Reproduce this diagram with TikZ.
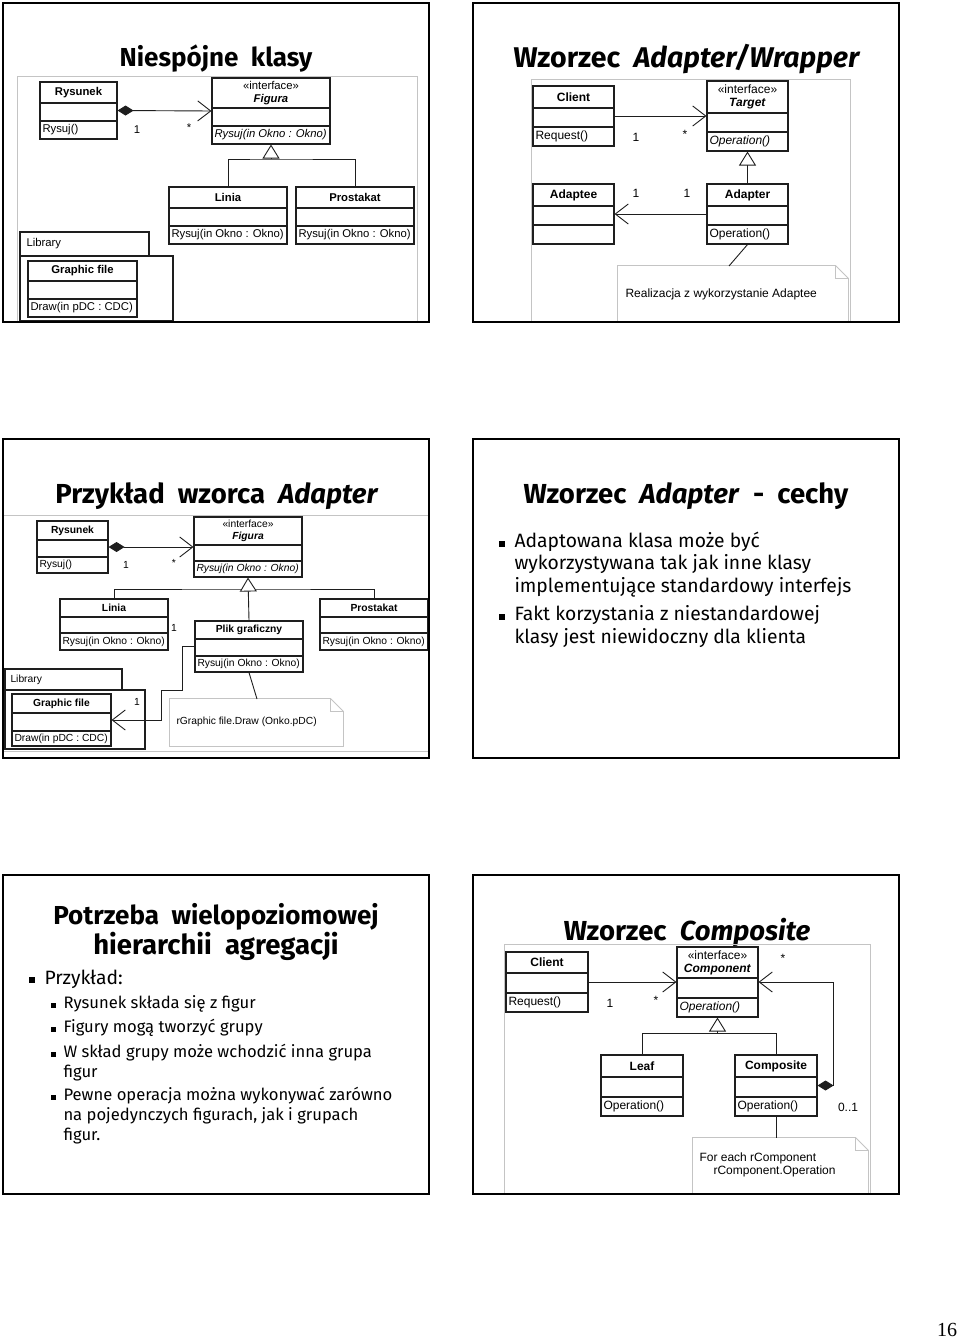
\documentclass[tikz,border=0pt]{standalone}
\usepackage{fontspec}
\setmainfont{Liberation Sans}
\newfontfamily\slidefont{Fira Sans}
\newfontfamily\numfont{Liberation Serif}
\usetikzlibrary{arrows.meta, calc, fit}
\definecolor{cline}{HTML}{1E1E1E}
\definecolor{cgray}{HTML}{C4C4C4}
\newcommand{\umlsize}{\fontsize{11.3}{13}\selectfont}
\newcommand{\widespace}{\spaceskip=0.48em\relax}
\newcommand{\iface}[1]{{\mdseries\guillemotleft interface\guillemotright}\\\textit{#1}}
% class box: name, x1, y1, x2, y2, first split, second split, title, operation
\newcommand{\umlclass}[9]{%
  \node[cls, fit={(#2,#3) (#4,#5)}] (#1) {};
  \draw[clsline] (#1.west |- 0,#6) -- (#1.east |- 0,#6);
  \draw[clsline] (#1.west |- 0,#7) -- (#1.east |- 0,#7);
  \node[clstitle] (#1-t) at ({(#2+#4)/2},{(#3+#6)/2}) {#8};
  \node[clsop] (#1-o) at (#2,{(#7+#5)/2}) {#9};
}
% note with folded corner
\newcommand{\umlnote}[5]{%
  \node[fit={(#2,#3) (#4,#5)}, inner sep=0pt] (#1) {};
  \draw[notebox] (#1.south west) -- (#1.north west) -- ([xshift=-13pt]#1.north east)
    -- ([yshift=-13pt]#1.north east) -- (#1.south east) -- cycle;
  \draw[notebox] ([xshift=-13pt]#1.north east) |- ([yshift=-13pt]#1.north east);
}
\tikzset{
  every picture/.style={line width=1pt},
  cls/.style={draw=cline, inner sep=0pt, line width=1.1pt},
  clsline/.style={draw=cline, line width=1.1pt},
  clstitle/.style={font=\umlsize\bfseries, align=center, inner sep=0pt},
  clsop/.style={font=\umlsize, anchor=west, inner sep=2pt},
  mult/.style={font=\umlsize, inner sep=0pt},
  wire/.style={draw=cline, line width=0.9pt},
  assoc/.style={wire, -{Straight Barb[length=13pt, width=20pt]}},
  gen/.style={wire, -{Triangle[open, length=14pt, width=17pt, fill=white]}},
  comp/.style={wire, {Diamond[length=16pt, width=10pt]}-{Straight Barb[length=13pt, width=20pt]}},
  notebox/.style={draw=cgray, line width=0.9pt},
  dframe/.style={draw=cgray, line width=0.9pt},
  pkg/.style={draw=cline, inner sep=0pt, line width=1.1pt},
  slide/.style={draw=black, line width=2pt},
  ttl/.style={font={\slidefont\bfseries\fontsize{#1}{30}\selectfont\widespace}, anchor=base, inner sep=0pt},
  ttl/.default=27.5,
  txt/.style={font=\slidefont\fontsize{19.3}{22.5}\selectfont, anchor=base west, inner sep=0pt},
  subtxt/.style={font=\slidefont\fontsize{16.6}{20}\selectfont, anchor=base west, inner sep=0pt},
  blt/.style={fill=black, minimum size=6pt, inner sep=0pt},
  sblt/.style={fill=black, minimum size=5pt, inner sep=0pt},
}
\begin{document}
\begin{tikzpicture}[x=1pt, y=-1pt]
  \fill[white] (0,0) rectangle (960,1340);
  \useasboundingbox (0,0) rectangle (960,1340);

  % ---- slide 1: Niespojne klasy
  \node[ttl=26] (t1) at (216,67) {Niespójne klasy};
  \draw[dframe] (17,76) rectangle (417,321);
  \umlclass{rys1}{40}{82}{117}{139}{103}{121}{Rysunek}{Rysuj()}
  \umlclass{fig1}{212}{78}{330}{144}{108}{126}{\iface{Figura}}{\textit{Rysuj(in Okno : Okno)}}
  \umlclass{lin1}{169}{187}{287}{244}{208}{226}{Linia}{Rysuj(in Okno : Okno)}
  \umlclass{pro1}{296}{187}{414}{244}{208}{226}{Prostakat}{Rysuj(in Okno : Okno)}
  \node[pkg, fit={(20,232) (149,256)}] (lib1t) {};
  \node[pkg, fit={(20,256) (173,321)}] (lib1) {};
  \node[clsop] (lib1l) at (24,244) {Library};
  \umlclass{gfx1}{28}{261}{137}{317}{281}{299}{Graphic file}{Draw(in pDC : CDC)}
  \draw[comp] (rys1.east) -- (fig1.west);
  \node[mult] (m1a) at (137,130) {1};
  \node[mult] (m1b) at (189,128) {*};
  \coordinate (j1) at (fig1.south |- 0,159);
  \draw[wire] (lin1.north) |- (j1) -| (pro1.north);
  \draw[gen] (j1) -- (fig1.south);

  % ---- slide 2: Adapter/Wrapper
  \begin{scope}
    \renewcommand{\umlsize}{\fontsize{12}{13}\selectfont}
    \node[ttl=28.5] (t2) at (687,68) {Wzorzec \textit{Adapter/Wrapper}};
    \draw[dframe] (531,79) rectangle (850,321);
    \umlclass{cli2}{533}{86}{614}{146}{108}{127}{Client}{Request()}
    \umlclass{tgt2}{707}{81}{788}{151}{113}{132}{\iface{Target}}{\textit{Operation()}}
    \umlclass{adt2}{533}{184}{614}{244}{206}{225}{Adaptee}{}
    \umlclass{adp2}{707}{184}{788}{244}{206}{225}{Adapter}{Operation()}
    \umlnote{note2}{618}{266}{848}{321}
    \node[clsop] (note2-t) at (623,294) {Realizacja z wykorzystanie Adaptee};
    \draw[assoc] (cli2.east) -- (tgt2.west);
    \node[mult] (m2a) at (636,137) {1};
    \node[mult] (m2b) at (685,134) {*};
    \draw[gen] (adp2.north) -- (tgt2.south);
    \draw[assoc] (adp2.west) -- (adt2.east);
    \node[mult] (m2c) at (636,193) {1};
    \node[mult] (m2d) at (687,193) {1};
    \coordinate (n2a) at (729,266);
    \draw[wire] (adp2.south) -- (n2a);
  \end{scope}

  % ---- slide 3: Przyklad wzorca Adapter
  \begin{scope}
    \renewcommand{\umlsize}{\fontsize{10.3}{12}\selectfont}
    \node[ttl] (t3) at (217,503) {Przykład wzorca \textit{Adapter}};
    \draw[dframe] (3,515) rectangle (429,751);
    \umlclass{rys3}{37}{521}{108}{573}{540}{557}{Rysunek}{Rysuj()}
    \umlclass{fig3}{194}{517}{302}{577}{545}{561}{\iface{Figura}}{\textit{Rysuj(in Okno : Okno)}}
    \umlclass{lin3}{60}{599}{168}{650}{617}{633}{Linia}{Rysuj(in Okno : Okno)}
    \umlclass{pro3}{320}{599}{428}{650}{617}{633}{Prostakat}{Rysuj(in Okno : Okno)}
    \umlclass{plk3}{195}{621}{303}{672}{639}{656}{Plik graficzny}{Rysuj(in Okno : Okno)}
    \node[pkg, fit={(5,669) (122,690)}] (lib3t) {};
    \node[pkg, fit={(5,690) (145,749)}] (lib3) {};
    \node[clsop] (lib3l) at (8,680) {Library};
    \umlclass{gfx3}{12}{694}{111}{746}{713}{731}{Graphic file}{Draw(in pDC : CDC)}
    \umlnote{note3}{170}{699}{343}{746}
    \node[clsop] (note3-t) at (174,722) {rGraphic file.Draw (Onko.pDC)};
    \draw[comp] (rys3.east) -- (fig3.west);
    \node[mult] (m3a) at (126,565) {1};
    \node[mult] (m3b) at (174,563) {*};
    \coordinate (j3) at (fig3.south |- 0,589);
    \draw[wire] (lin3.north) |- (j3) -| (pro3.north);
    \draw[gen] (plk3.north) -- (fig3.south);
    \draw[assoc] (plk3.west) -| (182,690) -| (161,720) -- (gfx3.east);
    \node[mult] (m3c) at (174,628) {1};
    \node[mult] (m3d) at (137,702) {1};
    \coordinate (n3a) at (257,699);
    \draw[wire] (plk3.south) -- (n3a);
  \end{scope}

  % ---- slide 4: cechy
  \node[ttl] (t4) at (686,503) {Wzorzec \textit{Adapter} - cechy};
  \node[blt] (b4a) at (502,544) {};
  \node[blt] (b4b) at (502,617) {};
  \foreach \y/\line [count=\i] in {547/Adaptowana klasa może być,
      569/wykorzystywana tak jak inne klasy,
      592/implementujące standardowy interfejs,
      620/Fakt korzystania z niestandardowej,
      643/klasy jest niewidoczny dla klienta}
    \node[txt] (l4-\i) at (514,\y) {\line};

  % ---- slide 5: hierarchia agregacji
  \node[ttl=26] (t5a) at (216,924) {Potrzeba wielopoziomowej};
  \node[ttl] (t5b) at (216,954) {hierarchii agregacji};
  \node[blt] (b5) at (32,980) {};
  \node[txt] (l5) at (44,984) {Przykład:};
  \foreach \y in {1005,1029,1054,1097}
    \node[sblt] (b5-\y) at (53,\y) {};
  \foreach \y/\line [count=\i] in {1008/Rysunek składa się z figur,
      1032/Figury mogą tworzyć grupy,
      1057/W skład grupy może wchodzić inna grupa,
      1077/figur,
      1100/Pewne operacja można wykonywać zarówno,
      1120/{na pojedynczych figurach, jak i grupach},
      1140/figur.}
    \node[subtxt] (l5-\i) at (63,\y) {\line};

  % ---- slide 6: Composite
  \begin{scope}
    \renewcommand{\umlsize}{\fontsize{12}{13}\selectfont}
    \node[ttl] (t6) at (687,940) {Wzorzec \textit{Composite}};
    \draw[dframe] (504,944) rectangle (870,1193);
    \umlclass{cli6}{506}{952}{588}{1012}{973}{993}{Client}{Request()}
    \umlclass{cmp6}{677}{947}{758}{1017}{978}{998}{\iface{Component}}{\textit{Operation()}}
    \umlclass{leaf6}{601}{1055}{683}{1116}{1077}{1097}{Leaf}{Operation()}
    \umlclass{cps6}{735}{1055}{817}{1116}{1077}{1097}{Composite}{Operation()}
    \umlnote{note6}{693}{1138}{868}{1193}
    \node[clsop, align=left, anchor=north west] (note6-t) at (697,1150)
      {For each rComponent\\\hspace*{14pt}rComponent.Operation};
    \draw[assoc] (cli6.east) -- (cmp6.west);
    \node[mult] (m6a) at (610,1003) {1};
    \node[mult] (m6b) at (656,1000) {*};
    \draw[comp] (cps6.east) -| (833,1033) |- (cmp6.east);
    \node[mult] (m6c) at (783,958) {*};
    \node[mult] (m6d) at (848,1107) {0..1};
    \coordinate (j6) at (cmp6.south |- 0,1033);
    \draw[wire] (leaf6.north) |- (j6) -| (cps6.north);
    \draw[gen] (j6) -- (cmp6.south);
    \coordinate (n6a) at (cps6.south |- 0,1138);
    \draw[wire] (cps6.south) -- (n6a);
  \end{scope}

  % ---- slide frames
  \foreach \sx/\sy in {3/3, 473/3, 3/439, 473/439, 3/875, 473/875}
    \draw[slide] (\sx,\sy) rectangle ++(426,319);
  \node[font=\numfont\fontsize{20}{24}\selectfont] (pg) at (947,1330) {16};
\end{tikzpicture}
\end{document}
